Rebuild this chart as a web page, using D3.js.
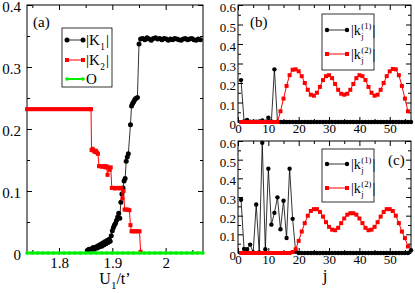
<!DOCTYPE html>
<html>
<head>
<meta charset="utf-8">
<script src="https://cdn.jsdelivr.net/npm/d3@7"></script>
<style>
  body { margin: 0; background: #fff; }
  text { font-family: "Liberation Serif", "Times New Roman", serif; }
</style>
</head>
<body>
<div id="chart"></div>
<script>
const width = 415, height = 293;

// panel (a): |K1|, |K2| and O against U1/t'
const k1U = [1.853,1.856,1.859,1.861,1.864,1.866,1.868,1.870,1.872,1.874,
  1.876,1.878,1.880,1.882,1.884,1.886,1.888,1.890,1.892,1.894,
  1.896,1.898,1.900,1.902,1.904,1.906,1.908,1.910,1.912,1.914,
  1.916,1.918,1.920,1.922,1.924,1.926,1.928,1.930,1.934,1.936,
  1.938,1.940,1.942,1.944,1.947,1.950,1.953,
  1.957,1.961,1.965,1.969,1.973,1.977,1.981,1.985,1.989,1.993,1.997,2.001,2.005,2.009,
  2.013,2.017,2.021,2.025,2.029,2.033,2.037,2.041,2.045,2.049,2.053,2.057,2.061,2.065];
const k1V = [0.004,0.006,0.005,0.007,0.009,0.006,0.008,0.010,0.008,0.012,
  0.010,0.014,0.011,0.016,0.013,0.018,0.015,0.020,0.017,0.022,
  0.019,0.028,0.036,0.041,0.045,0.048,0.053,0.058,0.064,0.056,
  0.082,0.095,0.105,0.116,0.120,0.148,0.155,0.160,0.207,0.237,
  0.241,0.244,0.247,0.249,0.251,0.337,0.345,
  0.346,0.344,0.347,0.345,0.343,0.346,0.347,0.345,0.346,0.344,0.346,0.345,0.343,0.345,
  0.344,0.346,0.345,0.344,0.343,0.345,0.346,0.344,0.345,0.346,0.344,0.343,0.345,0.344];

const k2U = [1.740,1.745,1.750,1.755,1.760,1.765,1.770,1.775,1.780,1.785,1.790,1.795,1.800,
  1.805,1.810,1.815,1.820,1.825,1.830,1.835,1.840,1.845,1.850,1.855,1.858,1.860,
  1.861,1.863,1.865,1.867,1.869,1.871,1.873,
  1.875,1.878,1.881,1.884,1.887,1.889,1.891,1.893,1.895,1.897,
  1.899,1.902,1.905,1.908,1.911,1.914,1.917,1.919,1.921,
  1.923,1.926,1.929,1.932,
  1.934,1.936,1.939,1.942,1.945,1.948,1.951,1.953];
const k2V = [0.232,0.232,0.232,0.232,0.232,0.232,0.232,0.232,0.232,0.232,0.232,0.232,0.232,
  0.232,0.232,0.232,0.232,0.232,0.232,0.232,0.232,0.232,0.232,0.232,0.232,0.232,
  0.166,0.168,0.165,0.163,0.165,0.162,0.160,
  0.140,0.140,0.139,0.140,0.138,0.140,0.126,0.138,0.134,0.138,
  0.105,0.105,0.104,0.105,0.105,0.104,0.105,0.088,0.100,
  0.070,0.070,0.070,0.069,
  0.045,0.035,0.035,0.035,0.035,0.035,0.035,0.002];

const oU = [1.74,1.75,1.76,1.77,1.78,1.79,1.80,1.81,1.82,1.83,1.84,1.85,1.86,1.87,1.88,1.89,1.90,
  1.91,1.92,1.93,1.94,1.95,1.96,1.97,1.98,1.99,2.00,2.01,2.02,2.03,2.04,2.05,2.06,2.07];
const oV = [0,0,0,0,0,0,0,0,0,0,0,0,0,0,0,0,0,0,0,0,0,0,0,0,0,0,0,0,0,0,0,0,0,0];

// panels (b) and (c): site profiles against j
const sites = [1,2,3,4,5,6,7,8,9,10,11,12,13,14,15,16,17,18,19,20,21,22,23,24,25,26,27,28,29,30,
  31,32,33,34,35,36,37,38,39,40,41,42,43,44,45,46,47,48,49,50,51,52,53,54,55,56,57];

const bK1 = [0.215,0.003,0.010,0.002,0.001,0.002,0.003,0.008,0.002,0.022,0.003,0.270,0.002,0,0,0,0,0,0,0,
  0,0,0,0,0,0,0,0,0,0,0,0,0,0,0,0,0,0,0,0,0,0,0,0,0,0,0,0,0,0,0,0,0,0,0,0,0];
const bK2 = [0,0,0,0,0,0,0,0,0,0,0,0,0,0.055,0.120,0.185,0.240,0.268,0.270,0.260,
  0.235,0.200,0.165,0.140,0.135,0.150,0.180,0.215,0.235,0.240,0.225,0.195,0.165,0.145,0.140,0.145,0.165,0.195,0.225,0.240,
  0.235,0.215,0.180,0.150,0.135,0.140,0.165,0.200,0.235,0.260,0.272,0.270,0.240,0.185,0.120,0.055,null];

const cK1 = [0.285,0.022,0.020,0.045,0.003,0.260,0.003,0.590,0.020,0.452,0.152,0.215,0.298,0.127,0.280,0.080,0.452,0.183,0.008,0,
  0,0,0,0,0,0,0,0,0,0,0,0,0,0,0,0,0,0,0,0,0,0,0,0,0,0,0,0,0,0,0,0,0,0,0,0,0.015];
const cK2 = [0,0,0,0,0,0,0,0,0,0,0,0,0,0,0,0,0,0.005,0.020,0.065,
  0.115,0.160,0.200,0.225,0.235,0.235,0.220,0.195,0.165,0.140,0.125,0.122,0.135,0.160,0.185,0.205,0.213,0.213,0.205,0.185,
  0.160,0.135,0.122,0.125,0.140,0.165,0.195,0.220,0.235,0.235,0.225,0.200,0.160,0.115,0.080,0.035,null];

const black = "#000000", red = "#ff0000", green = "#00ee00";

const svg = d3.select("#chart")
  .append("svg")
  .attr("width", width)
  .attr("height", height)
  .style("background-color", "#ffffff");

// frame with inward ticks on all four sides
function drawFrame(x, y, opt) {
  const [x0, x1] = x.range();
  const [y0, y1] = y.range();
  const g = svg.append("g");

  const sides = [
    [() => d3.axisBottom(x), `translate(0,${y0})`, opt.xMajor, opt.xMinor, opt.xFmt, true],
    [() => d3.axisTop(x), `translate(0,${y1})`, opt.xMajor, opt.xMinor, null, true],
    [() => d3.axisLeft(y), `translate(${x0},0)`, opt.yMajor, opt.yMinor, opt.yFmt, false],
    [() => d3.axisRight(y), `translate(${x1},0)`, opt.yMajor, opt.yMinor, null, false]
  ];
  sides.forEach(([mk, tr, major, minor, fmt, isX]) => {
    g.append("g").attr("transform", tr)
      .call(mk().tickValues(minor).tickSize(-opt.minorLen).tickSizeOuter(0).tickFormat(""))
      .call(s => s.select(".domain").remove());
    const ax = g.append("g").attr("transform", tr)
      .call(mk().tickValues(major).tickSize(-opt.majorLen).tickSizeOuter(0)
        .tickPadding(isX ? opt.xPad : opt.yPad)
        .tickFormat(fmt ? fmt : () => ""))
      .call(s => s.select(".domain").remove())
      .call(s => s.selectAll("text")
        .attr("font-size", opt.fontSize)
        .attr("font-family", "Liberation Serif, serif")
        .attr("fill", "#000"));
    if (!isX) ax.selectAll("text").attr("dy", opt.yDy);
  });
  g.selectAll("line").attr("stroke", "#000");

  g.append("rect")
    .attr("x", x0).attr("y", y1)
    .attr("width", x1 - x0).attr("height", y0 - y1)
    .attr("fill", "none").attr("stroke", "#000").attr("stroke-width", 1);
}

function drawSeries(xs, ys, x, y, color, shape, lw, size) {
  const pts = xs.map((d, i) => [d, ys[i]]).filter(p => p[1] !== null);
  svg.append("path")
    .datum(pts)
    .attr("fill", "none")
    .attr("stroke", color)
    .attr("stroke-width", lw)
    .attr("d", d3.line().x(p => x(p[0])).y(p => y(p[1])));
  drawMarkers(svg, pts.map(p => [x(p[0]), y(p[1])]), color, shape, size);
}

function drawMarkers(g, pts, color, shape, size) {
  if (shape === "circle") {
    g.append("g").selectAll("circle").data(pts).join("circle")
      .attr("cx", p => p[0]).attr("cy", p => p[1]).attr("r", size)
      .attr("fill", color);
  } else {
    g.append("g").selectAll("rect").data(pts).join("rect")
      .attr("x", p => p[0] - size).attr("y", p => p[1] - size)
      .attr("width", size * 2).attr("height", size * 2)
      .attr("fill", color);
  }
}

// legend label like |K_1| or |k_j^(1)|
function legendLabel(g, x, yb, main, sub, sup, fs) {
  const t = g.append("text").attr("x", x).attr("y", yb).attr("font-size", fs).text("|" + main);
  const w = t.node().getComputedTextLength();
  const subT = g.append("text").attr("x", x + w + 0.5).attr("y", yb + fs * 0.3)
    .attr("font-size", fs * 0.62).text(sub);
  let w2 = subT.node().getComputedTextLength();
  if (sup) {
    const supT = g.append("text").attr("x", x + w + 0.5).attr("y", yb - fs * 0.42)
      .attr("font-size", fs * 0.62).text(sup);
    w2 = Math.max(w2, supT.node().getComputedTextLength());
  }
  g.append("text").attr("x", x + w + w2 + 1.5).attr("y", yb).attr("font-size", fs).text("|");
}

function drawLegend(box, items, fs) {
  const g = svg.append("g");
  g.append("rect")
    .attr("x", box.x).attr("y", box.y).attr("width", box.w).attr("height", box.h)
    .attr("fill", "#fff").attr("stroke", "#000").attr("stroke-width", 0.8);
  items.forEach(it => {
    g.append("line")
      .attr("x1", box.lx0).attr("x2", box.lx1).attr("y1", it.y).attr("y2", it.y)
      .attr("stroke", it.color).attr("stroke-width", it.lw);
    drawMarkers(g, [[box.lx0, it.y], [box.lx1, it.y]], it.color, it.shape, it.size);
    if (it.plain) {
      g.append("text").attr("x", box.tx).attr("y", it.y + fs * 0.35).attr("font-size", fs).text(it.plain);
    } else {
      legendLabel(g, box.tx, it.y + fs * 0.35, it.main, it.sub, it.sup, fs);
    }
  });
}

// ---------- panel (a)
const xa = d3.scaleLinear().domain([1.74, 2.07]).range([27, 203]);
const ya = d3.scaleLinear().domain([0, 0.4]).range([253, 5]);

drawFrame(xa, ya, {
  xMajor: [1.8, 1.9, 2.0], xMinor: [1.75, 1.85, 1.95, 2.05],
  yMajor: [0, 0.1, 0.2, 0.3, 0.4], yMinor: [0.05, 0.15, 0.25, 0.35],
  xFmt: d => d === 2 ? "2" : d.toFixed(1),
  yFmt: d => d === 0 ? "0" : d.toFixed(1),
  majorLen: 5, minorLen: 3, xPad: 4, yPad: 6, fontSize: 15, yDy: "0.45em"
});

drawSeries(k1U, k1V, xa, ya, black, "circle", 0.8, 2.5);
drawSeries(k2U, k2V, xa, ya, red, "square", 1, 2);
drawSeries(oU, oV, xa, ya, green, "circle", 3, 1.8);

svg.append("text").attr("x", 33).attr("y", 27).attr("font-size", 15).text("(a)");

const xLab = svg.append("text").attr("x", 115).attr("y", 284)
  .attr("text-anchor", "middle").attr("font-size", 16);
xLab.append("tspan").text("U");
xLab.append("tspan").attr("font-size", 11).attr("dy", 5).text("1");
xLab.append("tspan").attr("dy", -5).text("/t’");

drawLegend({x: 62, y: 28, w: 50, h: 59, lx0: 67, lx1: 83, tx: 86}, [
  {y: 40, color: black, shape: "circle", size: 2.5, lw: 0.8, main: "K", sub: "1"},
  {y: 60, color: red, shape: "square", size: 2, lw: 1, main: "K", sub: "2"},
  {y: 79, color: green, shape: "circle", size: 1.8, lw: 2, plain: "O"}
], 15);

// ---------- panels (b) and (c)
const xj = d3.scaleLinear().domain([0, 57]).range([238, 411]);
const yb = d3.scaleLinear().domain([0, 0.6]).range([122, 5]);
const yc = d3.scaleLinear().domain([0, 0.6]).range([253, 141]);

const jOpt = {
  xMajor: [0, 10, 20, 30, 40, 50], xMinor: [5, 15, 25, 35, 45, 55],
  yMajor: [0, 0.1, 0.2, 0.3, 0.4, 0.5, 0.6], yMinor: [0.05, 0.15, 0.25, 0.35, 0.45, 0.55],
  xFmt: d => String(d),
  yFmt: d => d === 0 ? "0" : d.toFixed(1),
  majorLen: 5, minorLen: 3, xPad: 2, yPad: 2, fontSize: 13, yDy: "0.5em"
};

drawFrame(xj, yb, jOpt);
drawSeries(sites, bK1, xj, yb, black, "circle", 0.8, 2.2);
drawSeries(sites, bK2, xj, yb, red, "square", 1, 2);
svg.append("text").attr("x", 250).attr("y", 27).attr("font-size", 15).text("(b)");

drawLegend({x: 322, y: 14, w: 52, h: 56, lx0: 327, lx1: 347, tx: 351}, [
  {y: 30, color: black, shape: "circle", size: 2.2, lw: 0.8, main: "k", sub: "j", sup: "(1)"},
  {y: 54, color: red, shape: "square", size: 2, lw: 1, main: "k", sub: "j", sup: "(2)"}
], 14);

drawFrame(xj, yc, jOpt);
drawSeries(sites, cK1, xj, yc, black, "circle", 0.8, 2.2);
drawSeries(sites, cK2, xj, yc, red, "square", 1, 2);
svg.append("text").attr("x", 388).attr("y", 165).attr("font-size", 15).text("(c)");

drawLegend({x: 322, y: 149, w: 52, h: 53, lx0: 327, lx1: 347, tx: 351}, [
  {y: 164, color: black, shape: "circle", size: 2.2, lw: 0.8, main: "k", sub: "j", sup: "(1)"},
  {y: 188, color: red, shape: "square", size: 2, lw: 1, main: "k", sub: "j", sup: "(2)"}
], 14);

svg.append("text").attr("x", 325).attr("y", 281)
  .attr("text-anchor", "middle").attr("font-size", 17).text("j");
</script>
</body>
</html>
